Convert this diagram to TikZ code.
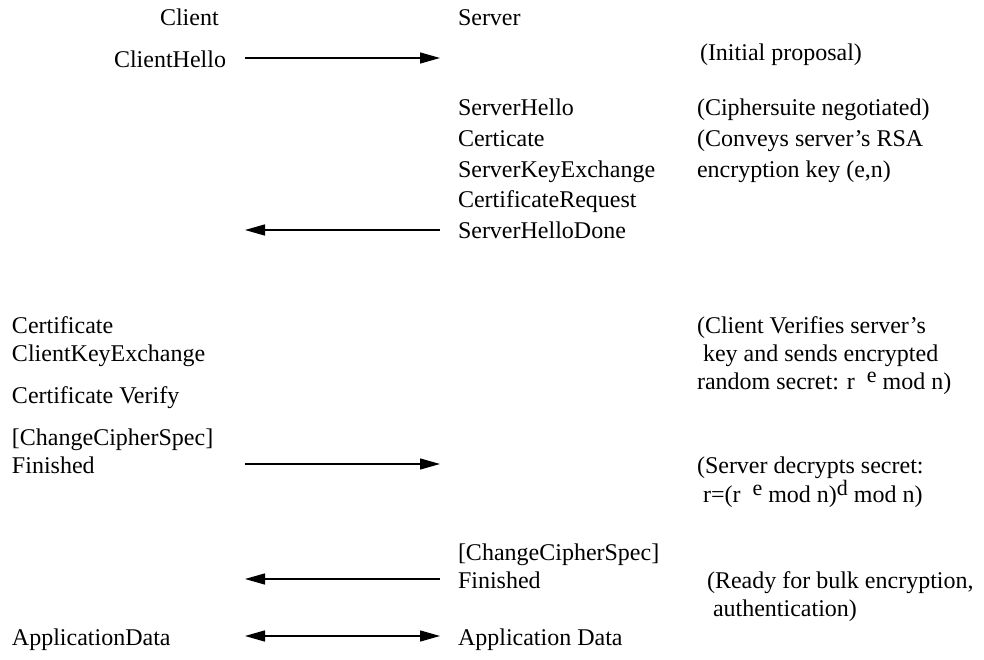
\documentclass[tikz,border=0pt]{standalone}
\usepackage{fontspec}
\setmainfont{Liberation Serif}
\usetikzlibrary{arrows.meta}
\newlength{\du}
\setlength{\du}{1pt}
\tikzset{
  diatext/.style={anchor=base west,inner sep=0pt,outer sep=0pt,font=\fontsize{24}{28}\selectfont},
  diaarrow/.style={line width=1.4pt,-{Triangle[length=20pt,width=11pt]}},
  diadouble/.style={line width=1.4pt,{Triangle[length=20pt,width=11pt]}-{Triangle[length=20pt,width=11pt]}}
}
\newcommand{\raisedsup}[1]{\raisebox{7\du}{\fontsize{22}{22}\selectfont #1}}
\begin{document}
\begin{tikzpicture}
\pgftransformxscale{1.000000}
\pgftransformyscale{-1.000000}
\useasboundingbox (0\du,0\du) rectangle (984\du,660\du);
% client and server headers
\node[diatext] (client) at (160\du,26\du){Client};
\node[diatext] (server) at (458\du,26\du){Server};
% hello from the client
\node[diatext] (chello) at (114\du,68\du){ClientHello};
\node[diatext] (initial) at (700\du,61\du){(Initial proposal)};
% server answer
\node[diatext] (shello) at (458\du,116\du){ServerHello};
\node[diatext] (cipher) at (697\du,116\du){(Ciphersuite negotiated)};
\node[diatext] (scert) at (458\du,147\du){Certicate};
\node[diatext] (conveys) at (697\du,147\du){(Conveys server's RSA};
\node[diatext] (skex) at (458\du,178\du){ServerKeyExchange};
\node[diatext] (enckey) at (697\du,178\du){encryption key (e,n)};
\node[diatext] (creq) at (458\du,208\du){CertificateRequest};
\node[diatext] (shdone) at (458\du,239\du){ServerHelloDone};
% client key exchange
\node[diatext] (ccert) at (12\du,333\du){Certificate};
\node[diatext] (ckex) at (12\du,361\du){ClientKeyExchange};
\node[diatext] (verifa) at (697\du,333\du){(Client Verifies server's};
\node[diatext] (verifb) at (703\du,361\du){key and sends encrypted};
\node[diatext] (verifc) at (697\du,389\du){random secret: r\ \ \raisedsup{e} mod n)};
\node[diatext] (cverify) at (12\du,403\du){Certificate Verify};
\node[diatext] (cccs) at (12\du,445\du){[ChangeCipherSpec]};
\node[diatext] (cfin) at (12\du,473\du){Finished};
\node[diatext] (decra) at (697\du,473\du){(Server decrypts secret:};
\node[diatext] (decrb) at (703\du,502\du){r=(r\ \ \raisedsup{e} mod n)\raisedsup{d} mod n)};
% server finished
\node[diatext] (sccs) at (458\du,560\du){[ChangeCipherSpec]};
\node[diatext] (sfin) at (458\du,588\du){Finished};
\node[diatext] (readya) at (707\du,588\du){(Ready for bulk encryption,};
\node[diatext] (readyb) at (713\du,616\du){authentication)};
% application data
\node[diatext] (cdata) at (12\du,645\du){ApplicationData};
\node[diatext] (sdata) at (458\du,645\du){Application Data};
% arrow ends
\coordinate (helloa) at (245\du,58\du);
\coordinate (hellob) at (440\du,58\du);
\coordinate (donea) at (440\du,230\du);
\coordinate (doneb) at (245\du,230\du);
\coordinate (cfina) at (245\du,464\du);
\coordinate (cfinb) at (440\du,464\du);
\coordinate (sfina) at (440\du,579\du);
\coordinate (sfinb) at (245\du,579\du);
\coordinate (dataa) at (245\du,636\du);
\coordinate (datab) at (440\du,636\du);
\draw[diaarrow] (helloa)--(hellob);
\draw[diaarrow] (donea)--(doneb);
\draw[diaarrow] (cfina)--(cfinb);
\draw[diaarrow] (sfina)--(sfinb);
\draw[diadouble] (dataa)--(datab);
\end{tikzpicture}
\end{document}
